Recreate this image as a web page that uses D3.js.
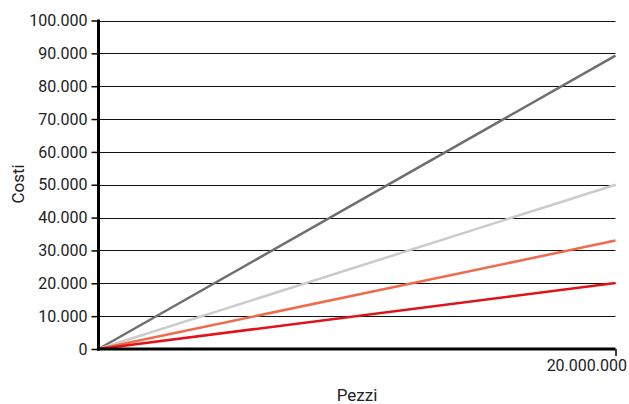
<!DOCTYPE html>
<html>
<head>
<meta charset="utf-8">
<script src="https://cdn.jsdelivr.net/npm/d3@7"></script>
<style>
    body { margin: 0; background: #fff; }
    text { font-family: Roboto, sans-serif; fill: #222; }
</style>
</head>
<body>
<div id="chart"></div>
<script>
// Data
const xDomainMax = 20000000
const yTicks = [0, 10000, 20000, 30000, 40000, 50000, 60000, 70000, 80000, 90000, 100000]
const seriesNames = ['grigio scuro', 'grigio chiaro', 'arancio', 'rosso']
const seriesColors = ['#6e6e6e', '#cbcbcb', '#ef6b4b', '#e2121b']
const pezzi = [0, 20000000]
const costiGrigioScuro = [0, 89300]
const costiGrigioChiaro = [0, 50000]
const costiArancio = [0, 33000]
const costiRosso = [0, 20100]

const chartWidth = 629
const chartHeight = 404
const plotLeft = 98.5
const plotRight = 615.5
const plotTop = 20.5
const plotBottom = 349

const fmt = (d) => d3.format(',')(d).replace(/,/g, '.')

let svg = d3.select('#chart')
            .append('svg')
            .attr('width', chartWidth)
            .attr('height', chartHeight)

// Scales
let xScale = d3.scaleLinear()
    .domain([0, xDomainMax])
    .range([plotLeft, plotRight])

let yScale = d3.scaleLinear()
    .domain([0, 100000])
    .range([plotBottom, plotTop])

// Gridlines
svg.append('g').selectAll('line')
    .data(yTicks.slice(1))
    .enter()
    .append('line')
    .attr('x1', plotLeft)
    .attr('x2', plotRight)
    .attr('y1', (d) => Math.round(yScale(d)) + 0.5)
    .attr('y2', (d) => Math.round(yScale(d)) + 0.5)
    .attr('stroke', '#111')
    .attr('stroke-width', 1)

// Series lines
const allSeries = [costiGrigioScuro, costiGrigioChiaro, costiArancio, costiRosso]
let line = d3.line()
    .x((d, i) => xScale(pezzi[i]))
    .y((d) => yScale(d))

svg.append('g').selectAll('path')
    .data(allSeries)
    .enter()
    .append('path')
    .attr('d', (d) => line(d))
    .attr('fill', 'none')
    .attr('stroke', (d, i) => seriesColors[i])
    .attr('stroke-width', 2.5)

// Y axis
let yAxis = d3.axisLeft(yScale)
    .tickValues(yTicks)
    .tickFormat(fmt)
    .tickSize(7)
    .tickPadding(4)

let gy = svg.append('g')
    .attr('transform', 'translate(' + plotLeft + ',0)')
    .call(yAxis)
gy.select('.domain').remove()
gy.selectAll('.tick line').attr('stroke', '#000').attr('stroke-width', 1.5)
gy.selectAll('.tick text').attr('font-size', '16px').attr('font-family', 'Roboto, sans-serif').attr('fill', '#222')

// X axis
let xAxis = d3.axisBottom(xScale)
    .tickValues([xDomainMax])
    .tickFormat(fmt)
    .tickSize(7)
    .tickPadding(4)

let gx = svg.append('g')
    .attr('transform', 'translate(0,' + plotBottom + ')')
    .call(xAxis)
gx.select('.domain').remove()
gx.selectAll('.tick line').attr('stroke', '#000').attr('stroke-width', 1.5)
gx.selectAll('.tick text')
    .attr('font-size', '16px')
    .attr('font-family', 'Roboto, sans-serif')
    .attr('fill', '#222')
    .attr('text-anchor', 'end')
    .attr('x', 11)

// Thick axis lines
svg.append('line')
    .attr('x1', plotLeft).attr('x2', plotLeft)
    .attr('y1', plotTop - 1).attr('y2', plotBottom + 1.5)
    .attr('stroke', '#000').attr('stroke-width', 3)

svg.append('line')
    .attr('x1', plotLeft - 1.5).attr('x2', plotRight)
    .attr('y1', plotBottom).attr('y2', plotBottom)
    .attr('stroke', '#000').attr('stroke-width', 3)

// Axis titles
svg.append('text')
    .attr('transform', 'translate(24,184) rotate(-90)')
    .attr('text-anchor', 'middle')
    .attr('font-size', '17px')
    .text('Costi')

svg.append('text')
    .attr('x', 357)
    .attr('y', 401)
    .attr('text-anchor', 'middle')
    .attr('font-size', '17px')
    .text('Pezzi')
</script>
</body>
</html>
